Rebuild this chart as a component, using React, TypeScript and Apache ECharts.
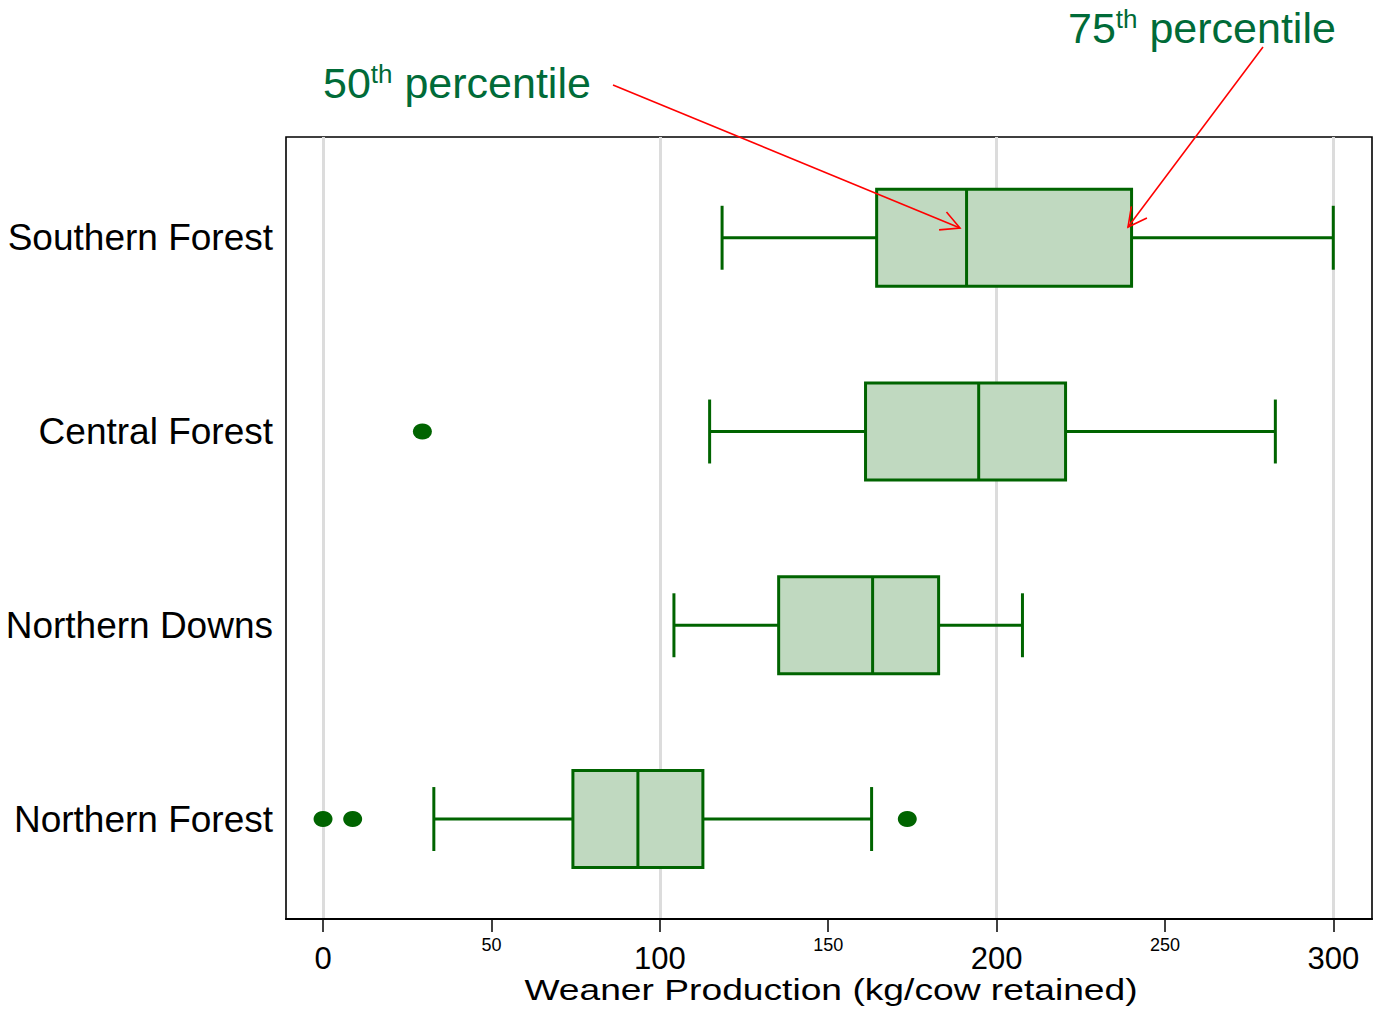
import React, { useEffect, useRef } from 'react';
import * as echarts from 'echarts';

const categories = ['Southern Forest', 'Central Forest', 'Northern Downs', 'Northern Forest'];
const whiskerLow = [118.5, 114.8, 104.2, 32.9];
const q1 = [164.4, 161.1, 135.3, 74.2];
const median = [191.1, 194.7, 163.2, 93.5];
const q3 = [240.1, 220.5, 182.8, 112.8];
const whiskerHigh = [300, 282.8, 207.7, 162.9];
const outlierValues = [29.5, 0, 8.8, 173.5];
const outlierCategories = ['Central Forest', 'Northern Forest', 'Northern Forest', 'Northern Forest'];
const tickValues = [0, 50, 100, 150, 200, 250, 300];
const gridValues = [0, 100, 200, 300];
const xTitle = 'Weaner Production (kg/cow retained)';

const FONT = '"Liberation Sans", Arial, sans-serif';
const GREEN = '#006400';
const FILL = '#c0d9c0';
const ANNO = '#006b38';

function arrow(x1: number, y1: number, x2: number, y2: number) {
  const ang = Math.atan2(y2 - y1, x2 - x1);
  const len = 21;
  const spread = 0.48;
  const a1 = ang + Math.PI - spread;
  const a2 = ang + Math.PI + spread;
  return [
    { type: 'line', z: 100, shape: { x1, y1, x2, y2 }, style: { stroke: '#ff0000', lineWidth: 1.6 } },
    {
      type: 'polyline',
      z: 100,
      shape: {
        points: [
          [x2 + len * Math.cos(a1), y2 + len * Math.sin(a1)],
          [x2, y2],
          [x2 + len * Math.cos(a2), y2 + len * Math.sin(a2)],
        ],
      },
      style: { stroke: '#ff0000', lineWidth: 1.6, fill: 'none' },
    },
  ];
}

export default function App() {
  const ref = useRef<HTMLDivElement>(null);
  useEffect(() => {
    document.body.style.margin = '0';
    const chart = echarts.init(ref.current!, null, { renderer: 'svg' });
    const catIndex = categories.map((c, i) => i);
    const boxData = categories.map((c, i) => [i, whiskerLow[i], q1[i], median[i], q3[i], whiskerHigh[i]]);
    const outliers = outlierValues.map((v, i) => [v, categories.indexOf(outlierCategories[i])]);
    const annoRich = {
      n: { fontSize: 43, lineHeight: 43, fontFamily: FONT, fill: ANNO, verticalAlign: 'bottom' },
      s: { fontSize: 26, lineHeight: 32, fontFamily: FONT, fill: ANNO, verticalAlign: 'top' },
    };
    const option: any = {
      animation: false,
      backgroundColor: '#fff',
      grid: {
        left: 286,
        right: 2,
        top: 137,
        bottom: 90,
        show: true,
        borderColor: '#000',
        borderWidth: 1.6,
        containLabel: false,
      },
      xAxis: {
        type: 'value',
        position: 'bottom',
        min: -11,
        max: 311.5,
        axisLine: { show: true, onZero: false, lineStyle: { color: '#000', width: 2.2 } },
        axisTick: { show: true, customValues: tickValues, length: 13, lineStyle: { color: '#000', width: 1.5 } },
        axisLabel: {
          customValues: tickValues,
          margin: 17,
          fontFamily: FONT,
          color: '#000',
          formatter: (v: number) => (v % 100 === 0 ? `{big|${v}}` : `{small|${v}}`),
          rich: {
            big: { fontSize: 31, fontFamily: FONT, color: '#000', padding: [7, 0, 0, 0] },
            small: { fontSize: 18, fontFamily: FONT, color: '#000' },
          },
        },
        splitLine: { show: false },
      },
      yAxis: {
        type: 'value',
        inverse: true,
        min: -0.52,
        max: 3.516,
        axisLine: { show: false, onZero: false },
        axisTick: { show: false },
        splitLine: { show: false },
        axisLabel: {
          customValues: catIndex,
          formatter: (v: number) => categories[Math.round(v)] ?? '',
          fontSize: 37,
          fontFamily: FONT,
          color: '#000',
          margin: 13,
        },
      },
      series: [
        {
          type: 'scatter',
          data: [],
          z: 0,
          markLine: {
            z: 0,
            silent: true,
            symbol: ['none', 'none'],
            label: { show: false },
            lineStyle: { color: '#dcdcdc', width: 3, type: 'solid' },
            data: gridValues.map((v) => ({ xAxis: v })),
          },
        },
        {
          type: 'custom',
          z: 3,
          data: boxData,
          encode: { x: [1, 2, 3, 4, 5], y: 0 },
          renderItem: (params: any, api: any) => {
            const idx = api.value(0);
            const pLo = api.coord([api.value(1), idx]);
            const pQ1 = api.coord([api.value(2), idx]);
            const pMed = api.coord([api.value(3), idx]);
            const pQ3 = api.coord([api.value(4), idx]);
            const pHi = api.coord([api.value(5), idx]);
            const band = api.size([0, 1])[1];
            const cy = pLo[1];
            const bh = band * 0.5;
            const ch = band * 0.33;
            const ls = { stroke: GREEN, lineWidth: 3 };
            return {
              type: 'group',
              children: [
                { type: 'line', shape: { x1: pLo[0], y1: cy, x2: pQ1[0], y2: cy }, style: ls },
                { type: 'line', shape: { x1: pQ3[0], y1: cy, x2: pHi[0], y2: cy }, style: ls },
                { type: 'line', shape: { x1: pLo[0], y1: cy - ch / 2, x2: pLo[0], y2: cy + ch / 2 }, style: ls },
                { type: 'line', shape: { x1: pHi[0], y1: cy - ch / 2, x2: pHi[0], y2: cy + ch / 2 }, style: ls },
                {
                  type: 'rect',
                  shape: { x: pQ1[0], y: cy - bh / 2, width: pQ3[0] - pQ1[0], height: bh },
                  style: { fill: FILL, stroke: GREEN, lineWidth: 3 },
                },
                { type: 'line', shape: { x1: pMed[0], y1: cy - bh / 2, x2: pMed[0], y2: cy + bh / 2 }, style: ls },
              ],
            };
          },
        },
        {
          type: 'scatter',
          z: 4,
          data: outliers,
          symbol: 'circle',
          symbolSize: [19, 16],
          itemStyle: { color: GREEN, opacity: 1 },
        },
      ],
      graphic: [
        {
          type: 'text',
          z: 100,
          x: 323,
          y: 61,
          style: { text: '{n|50}{s|th}{n| percentile}', verticalAlign: 'top', rich: annoRich },
        },
        {
          type: 'text',
          z: 100,
          x: 1068,
          y: 6,
          style: { text: '{n|75}{s|th}{n| percentile}', verticalAlign: 'top', rich: annoRich },
        },
        ...arrow(613, 85, 960, 228),
        ...arrow(1263, 47, 1128, 227),
        {
          type: 'text',
          z: 100,
          x: 831,
          y: 989,
          scaleX: 1.24,
          style: {
            text: xTitle,
            fontSize: 30,
            fontFamily: FONT,
            fill: '#000',
            align: 'center',
            verticalAlign: 'middle',
          },
        },
      ],
    };
    chart.setOption(option);
    return () => chart.dispose();
  }, []);
  return <div ref={ref} style={{ width: 1374, height: 1009 }} />;
}
